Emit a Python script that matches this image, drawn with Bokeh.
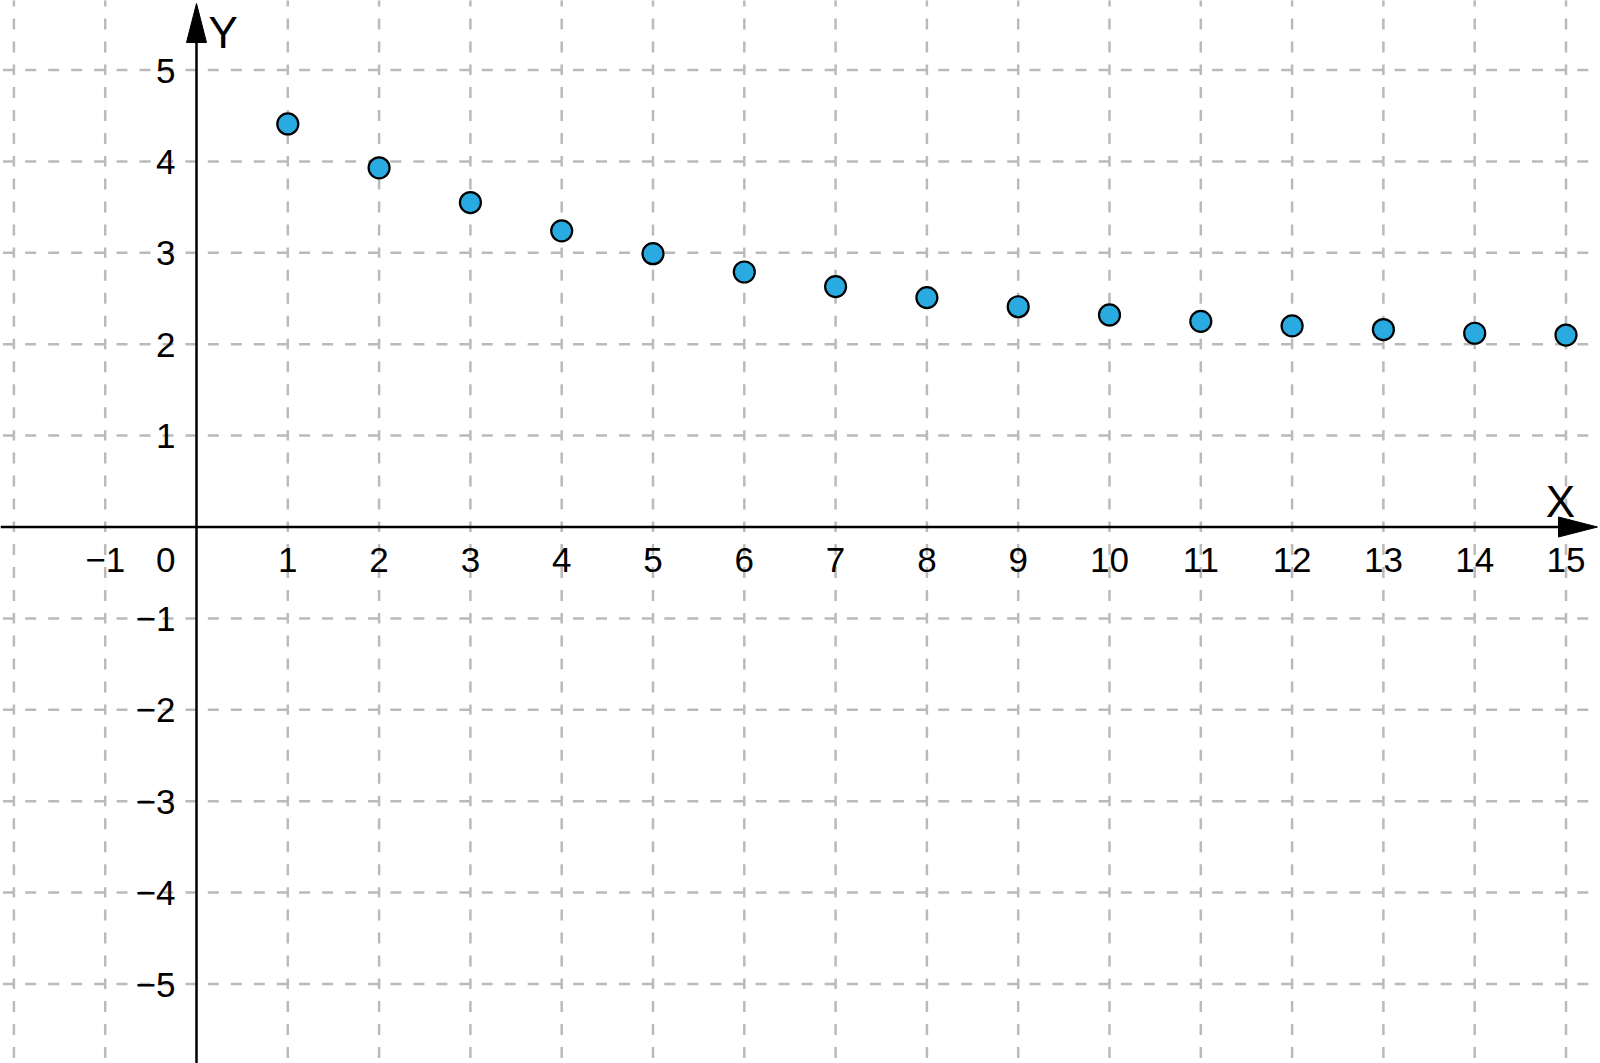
from bokeh.plotting import figure
from bokeh.models import Range1d
from bokeh.core.properties import value
from bokeh.embed import file_html
from bokeh.resources import INLINE

# ---- data ----
x_values = [1, 2, 3, 4, 5, 6, 7, 8, 9, 10, 11, 12, 13, 14, 15]
y_values = [4.41, 3.93, 3.55, 3.24, 2.99, 2.79, 2.63, 2.51, 2.41, 2.32, 2.25, 2.20, 2.16, 2.12, 2.10]

x_tick_values = [-1, 1, 2, 3, 4, 5, 6, 7, 8, 9, 10, 11, 12, 13, 14, 15]
x_tick_labels = ["\u22121", "1", "2", "3", "4", "5", "6", "7", "8", "9", "10", "11", "12", "13", "14", "15"]
y_tick_values = [-5, -4, -3, -2, -1, 1, 2, 3, 4, 5]
y_tick_labels = ["\u22125", "\u22124", "\u22123", "\u22122", "\u22121", "1", "2", "3", "4", "5"]
grid_x = [-2, -1, 1, 2, 3, 4, 5, 6, 7, 8, 9, 10, 11, 12, 13, 14, 15]
grid_y = [-5, -4, -3, -2, -1, 1, 2, 3, 4, 5]

# ---- layout (pixels) ----
W, H = 1600, 1063
ORIGIN_PX_X, ORIGIN_PX_Y = 196.0, 526.5
UNIT_X, UNIT_Y = 91.3, 91.4

x_start = (0 - ORIGIN_PX_X) / UNIT_X
x_end = (W - ORIGIN_PX_X) / UNIT_X
y_end = (ORIGIN_PX_Y - 0) / UNIT_Y
y_start = (ORIGIN_PX_Y - H) / UNIT_Y

p = figure(width=W, height=H, x_range=Range1d(x_start, x_end), y_range=Range1d(y_start, y_end),
           output_backend="svg", toolbar_location=None, x_axis_type=None, y_axis_type=None,
           min_border=0, outline_line_color=None)
p.background_fill_color = "white"
p.border_fill_color = "white"

GRID_COLOR = "#bababa"

# vertical grid lines, drawn cell by cell (top to bottom)
vx0, vy0, vx1, vy1 = [], [], [], []
for gx in grid_x:
    for k in range(-7, 7):
        vx0.append(gx); vy0.append(k + 1); vx1.append(gx); vy1.append(k)
p.segment(vx0, vy0, vx1, vy1, line_color=GRID_COLOR, line_width=2.5,
          line_dash="11 12", line_dash_offset=6)

# horizontal grid lines, drawn cell by cell (right to left)
hx0, hy0, hx1, hy1 = [], [], [], []
for gy in grid_y:
    for k in range(-4, 17):
        hx0.append(k + 1); hy0.append(gy); hx1.append(k); hy1.append(gy)
p.segment(hx0, hy0, hx1, hy1, line_color=GRID_COLOR, line_width=2.5,
          line_dash="11 12", line_dash_offset=0)

# axes with arrow heads
ARROW_LEN_PX, ARROW_HALF_PX = 39, 10
x_tip = (1597 - ORIGIN_PX_X) / UNIT_X
x_base = x_tip - ARROW_LEN_PX / UNIT_X
y_tip = (ORIGIN_PX_Y - 3) / UNIT_Y
y_base = y_tip - ARROW_LEN_PX / UNIT_Y

p.line([x_start, x_base + 0.05], [0, 0], line_color="black", line_width=2.5)
p.line([0, 0], [y_start, y_base + 0.05], line_color="black", line_width=2.5)
p.patch([x_base, x_tip, x_base], [ARROW_HALF_PX / UNIT_Y, 0, -ARROW_HALF_PX / UNIT_Y],
        fill_color="black", line_color="black", line_width=1)
p.patch([-ARROW_HALF_PX / UNIT_X, 0, ARROW_HALF_PX / UNIT_X], [y_base, y_tip, y_base],
        fill_color="black", line_color="black", line_width=1)

# points
p.scatter(x_values, y_values, size=21, marker="circle", fill_color="#29abe2",
          line_color="black", line_width=2.2)

FONT = value("Liberation Sans")
BASE_FIX = 12.5  # renderer places alphabetic baseline lower than requested
TICK_SIZE = "35px"

# x tick labels
p.text(x=x_tick_values, y=[0] * len(x_tick_values), text=x_tick_labels, text_font=FONT,
       text_font_size=TICK_SIZE, text_align="center", text_baseline="alphabetic",
       y_offset=45.5 - BASE_FIX, text_color="black")
# origin label
p.text(x=[0], y=[0], text=["0"], text_font=FONT, text_font_size=TICK_SIZE,
       text_align="right", text_baseline="alphabetic", x_offset=-21, y_offset=45.5 - BASE_FIX,
       text_color="black")
# y tick labels
p.text(x=[0] * len(y_tick_values), y=y_tick_values, text=y_tick_labels, text_font=FONT,
       text_font_size=TICK_SIZE, text_align="right", text_baseline="alphabetic",
       x_offset=-21, y_offset=13 - BASE_FIX, text_color="black")

# axis names
p.text(x=[0], y=[(ORIGIN_PX_Y - 47) / UNIT_Y], text=["Y"], text_font=FONT,
       text_font_size="44px", text_align="left", text_baseline="alphabetic",
       x_offset=12, y_offset=-15, text_color="black")
p.text(x=[15], y=[0], text=["X"], text_font=FONT, text_font_size="44px",
       text_align="center", text_baseline="alphabetic", x_offset=-5.5, y_offset=-10.5 - 15,
       text_color="black")

open("out.html", "w").write(file_html(p, INLINE))
